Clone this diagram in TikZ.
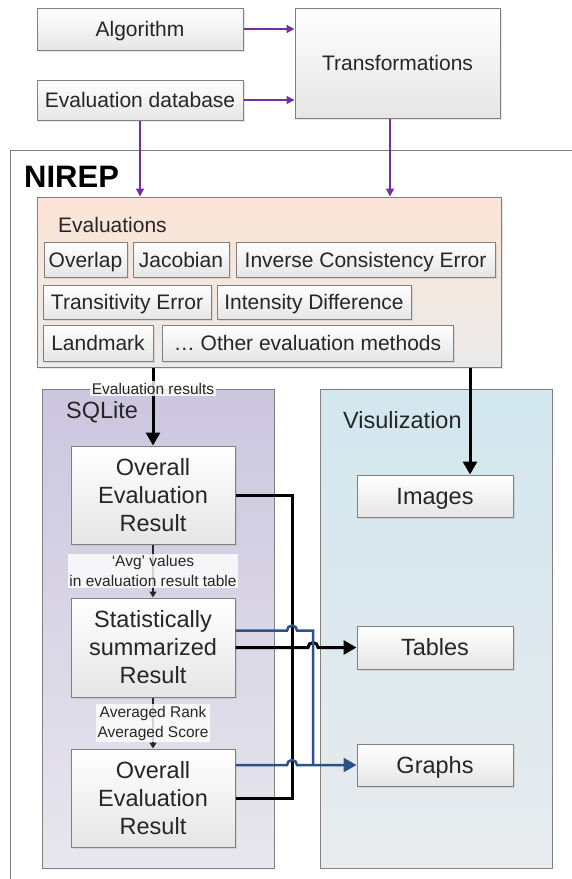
\documentclass[tikz,border=0pt]{standalone}
\usepackage{fontspec}
\setmainfont{Liberation Sans}
\usetikzlibrary{arrows.meta,shadows,calc}
\definecolor{pur}{RGB}{112,48,160}
\definecolor{blu}{RGB}{44,82,136}
\definecolor{bord}{RGB}{128,128,128}
\definecolor{txt}{RGB}{38,38,38}
\definecolor{peach}{RGB}{252,228,212}
\definecolor{lav}{RGB}{203,198,222}
\definecolor{lavb}{RGB}{232,230,238}
\definecolor{sky}{RGB}{210,231,238}
\definecolor{skyb}{RGB}{232,235,238}
\tikzset{
  box/.style={draw=bord, line width=1pt, top color=white, bottom color=black!10,
    inner sep=0pt, text=txt, align=center,
    drop shadow={opacity=0.18, shadow xshift=1.5pt, shadow yshift=-1.5pt}},
  mainfont/.style={font=\fontsize{21}{25}\selectfont},
  bigfont/.style={font=\fontsize{23.5}{28}\selectfont},
  oneline/.style={text height=17pt, text depth=2pt},
  onebig/.style={text height=19pt, text depth=2.2pt},
  group/.style={draw=bord, line width=1pt, inner sep=0pt},
  lbl/.style={fill=white, fill opacity=0.8, text opacity=1, text=txt, inner sep=1.5pt,
    align=center, font=\fontsize{15.5}{20}\selectfont},
  parr/.style={draw=pur, line width=1.3pt, -{Triangle[length=8pt,width=8pt]}},
  barr/.style={draw=black, line width=3pt},
  blarr/.style={draw=blu, line width=2.5pt},
  sarr/.style={draw=black!85, line width=2.5pt, -{Triangle[length=6pt,width=7pt]}},
}
\begin{document}
\begin{tikzpicture}[x=1pt,y=-1pt]
\useasboundingbox (0,0) rectangle (572,879);
\clip (0,0) rectangle (572,879);
\fill[white] (0,0) rectangle (572,879);

% top boxes
\node[box,mainfont,oneline,minimum width=206pt,minimum height=42pt] (alg) at (140,29) {Algorithm};
\node[box,mainfont,oneline,minimum width=206pt,minimum height=40pt] (edb) at (140,100) {Evaluation database};
\node[box,mainfont,oneline,minimum width=205pt,minimum height=110pt] (tr) at (397.5,63) {Transformations};

% NIREP frame
\node[draw=bord, line width=1.2pt, fill=white, minimum width=620pt, minimum height=780pt, inner sep=0pt, anchor=north west] (nirep) at (10,150) {};
\node[anchor=base west, inner sep=0pt, font=\fontsize{31}{35}\selectfont\bfseries] (nlab) at (24,187) {NIREP};

% Evaluations group
\node[group, top color=peach, bottom color=black!8, minimum width=464pt, minimum height=170pt,
  drop shadow={opacity=0.18, shadow xshift=1.5pt, shadow yshift=-1.5pt}] (evals) at (269,282) {};
\node[anchor=base west, inner sep=0pt, mainfont, text=txt] (evlab) at (58,232) {Evaluations};
\node[box,mainfont,oneline,minimum width=83pt,minimum height=35pt] (ovl) at (85.5,259.5) {Overlap};
\node[box,mainfont,oneline,minimum width=96pt,minimum height=35pt] (jac) at (181,259.5) {Jacobian};
\node[box,mainfont,oneline,minimum width=259pt,minimum height=35pt] (ice) at (365.5,259.5) {Inverse Consistency Error};
\node[box,mainfont,oneline,minimum width=168pt,minimum height=34pt] (tre) at (127,302) {Transitivity Error};
\node[box,mainfont,oneline,minimum width=194pt,minimum height=34pt] (idf) at (314,302) {Intensity Difference};
\node[box,mainfont,oneline,minimum width=110pt,minimum height=36pt] (lmk) at (98,343) {Landmark};
\node[box,mainfont,oneline,minimum width=291pt,minimum height=36pt] (oth) at (307.5,343) {… Other evaluation methods};

% SQLite group
\node[group, top color=lav, bottom color=lavb, minimum width=232pt, minimum height=479pt] (sql) at (158,628.5) {};
\node[anchor=base west, inner sep=0pt, bigfont, text=txt] (sqlab) at (66,418) {SQLite};
\node[box,bigfont,minimum width=164pt,minimum height=98pt] (ov1) at (153,495) {Overall\\Evaluation\\Result};
\node[box,bigfont,minimum width=164pt,minimum height=99pt] (st) at (153,647.5) {Statistically\\summarized\\Result};
\node[box,bigfont,minimum width=164pt,minimum height=98pt] (ov2) at (153,798) {Overall\\Evaluation\\Result};

% Visualization group
\node[group, top color=sky, bottom color=skyb, minimum width=232pt, minimum height=479pt] (vis) at (436,628.5) {};
\node[anchor=base west, inner sep=0pt, bigfont, text=txt] (vislab) at (343,428) {Visulization};
\node[box,bigfont,onebig,minimum width=156pt,minimum height=42pt] (img) at (435,496) {Images};
\node[box,bigfont,onebig,minimum width=156pt,minimum height=43pt] (tab) at (435,647.5) {Tables};
\node[box,bigfont,onebig,minimum width=156pt,minimum height=42pt] (gra) at (435,765) {Graphs};

% helper coordinates
\coordinate (tx) at (390,0);
\coordinate (ix) at (470,0);
\coordinate (vb) at (292,0);
\coordinate (vu) at (313,0);

% purple arrows
\draw[parr] (alg.east) -- (alg.east -| tr.west);
\draw[parr] (edb.east) -- (edb.east -| tr.west);
\draw[parr] (edb.south) -- (edb.south |- evals.north);
\draw[parr] (tr.south -| tx) -- (evals.north -| tx);

% black arrows from evaluations
\draw[barr, -{Triangle[length=13pt,width=14pt]}] (evals.south -| ov1.north) -- (ov1.north)
  node[lbl, pos=0.27] (erl) {Evaluation results};
\draw[barr, -{Triangle[length=13pt,width=14pt]}] (evals.south -| ix) -- (img.north -| ix);

% inner SQLite arrows
\draw[sarr] (ov1.south) -- (st.north)
  node[lbl, midway] (avg) {`Avg' values\\in evaluation result table};
\draw[sarr] (st.south) -- (ov2.north)
  node[lbl, midway] (avr) {Averaged Rank\\Averaged Score};

% black connectors to Tables
\draw[barr] (ov1.east) -- (ov1.east -| vb) -- (ov2.east -| vb) -- (ov2.east);
\draw[barr, -{Triangle[length=13pt,width=14pt]}] (st.east) -- ([xshift=-5pt]st.east -| vu)
  arc[start angle=180, end angle=0, radius=5pt] -- (tab.west);

% blue connectors to Graphs
\draw[blarr] ([yshift=17pt]st.east) coordinate (s1) -- ([xshift=-5pt]s1 -| vb)
  arc[start angle=180, end angle=0, radius=5pt] -- (s1 -| vu) -- (gra.west -| vu);
\draw[blarr, -{Triangle[length=13pt,width=14pt]}] (ov2.east |- gra.west) coordinate (s2) -- ([xshift=-5pt]s2 -| vb)
  arc[start angle=180, end angle=0, radius=5pt] -- (gra.west);
\end{tikzpicture}
\end{document}
